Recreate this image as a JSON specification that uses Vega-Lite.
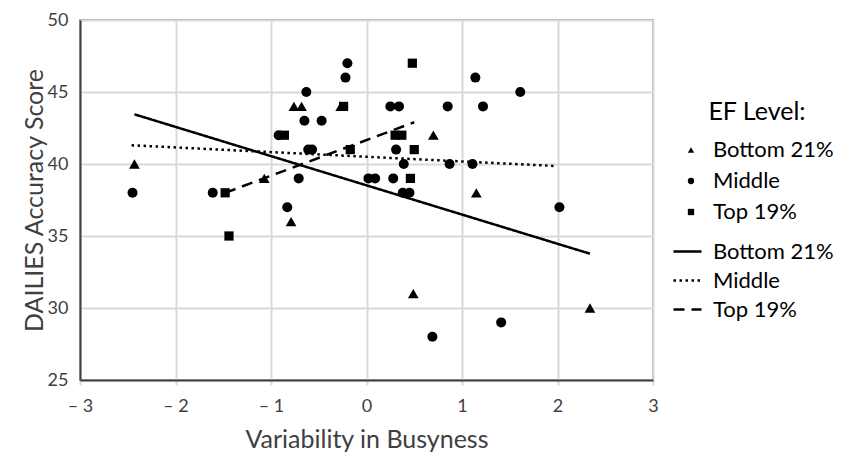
{
  "$schema": "https://vega.github.io/schema/vega-lite/v6.json",
  "width": 573,
  "height": 360,
  "autosize": "none",
  "padding": {"left": 80, "top": 20, "right": 188, "bottom": 75},
  "background": "white",
  "config": {
    "font": "Lato",
    "view": {"stroke": "#a6a6a6", "strokeWidth": 2}
  },
  "datasets": {
    "points": [
      {"busyness": -2.43, "score": 40, "group": "Bottom 21%"},
      {"busyness": -1.07, "score": 39, "group": "Bottom 21%"},
      {"busyness": -0.76, "score": 44, "group": "Bottom 21%"},
      {"busyness": -0.68, "score": 44, "group": "Bottom 21%"},
      {"busyness": -0.27, "score": 44, "group": "Bottom 21%"},
      {"busyness": -0.79, "score": 36, "group": "Bottom 21%"},
      {"busyness": 0.70, "score": 42, "group": "Bottom 21%"},
      {"busyness": 1.15, "score": 38, "group": "Bottom 21%"},
      {"busyness": 0.49, "score": 31, "group": "Bottom 21%"},
      {"busyness": 2.34, "score": 30, "group": "Bottom 21%"},
      {"busyness": -2.45, "score": 38, "group": "Middle"},
      {"busyness": -1.61, "score": 38, "group": "Middle"},
      {"busyness": -0.92, "score": 42, "group": "Middle"},
      {"busyness": -0.20, "score": 47, "group": "Middle"},
      {"busyness": -0.22, "score": 46, "group": "Middle"},
      {"busyness": -0.63, "score": 45, "group": "Middle"},
      {"busyness": -0.65, "score": 43, "group": "Middle"},
      {"busyness": -0.47, "score": 43, "group": "Middle"},
      {"busyness": 0.25, "score": 44, "group": "Middle"},
      {"busyness": 0.34, "score": 44, "group": "Middle"},
      {"busyness": 0.85, "score": 44, "group": "Middle"},
      {"busyness": -0.61, "score": 41, "group": "Middle"},
      {"busyness": -0.57, "score": 41, "group": "Middle"},
      {"busyness": 0.31, "score": 41, "group": "Middle"},
      {"busyness": 0.39, "score": 40, "group": "Middle"},
      {"busyness": 0.87, "score": 40, "group": "Middle"},
      {"busyness": -0.71, "score": 39, "group": "Middle"},
      {"busyness": 0.02, "score": 39, "group": "Middle"},
      {"busyness": 0.09, "score": 39, "group": "Middle"},
      {"busyness": 0.28, "score": 39, "group": "Middle"},
      {"busyness": 0.38, "score": 38, "group": "Middle"},
      {"busyness": 0.45, "score": 38, "group": "Middle"},
      {"busyness": -0.83, "score": 37, "group": "Middle"},
      {"busyness": 1.14, "score": 46, "group": "Middle"},
      {"busyness": 1.61, "score": 45, "group": "Middle"},
      {"busyness": 1.22, "score": 44, "group": "Middle"},
      {"busyness": 1.11, "score": 40, "group": "Middle"},
      {"busyness": 2.02, "score": 37, "group": "Middle"},
      {"busyness": 0.69, "score": 28, "group": "Middle"},
      {"busyness": 1.41, "score": 29, "group": "Middle"},
      {"busyness": -1.48, "score": 38, "group": "Top 19%"},
      {"busyness": -0.86, "score": 42, "group": "Top 19%"},
      {"busyness": -0.24, "score": 44, "group": "Top 19%"},
      {"busyness": 0.48, "score": 47, "group": "Top 19%"},
      {"busyness": 0.30, "score": 42, "group": "Top 19%"},
      {"busyness": 0.37, "score": 42, "group": "Top 19%"},
      {"busyness": -0.17, "score": 41, "group": "Top 19%"},
      {"busyness": 0.50, "score": 41, "group": "Top 19%"},
      {"busyness": 0.46, "score": 39, "group": "Top 19%"},
      {"busyness": -1.44, "score": 35, "group": "Top 19%"}
    ],
    "fits": [
      {"busyness": -2.43, "score": 43.45, "fit": "Bottom 21%"},
      {"busyness": 2.34, "score": 33.77, "fit": "Bottom 21%"},
      {"busyness": -2.46, "score": 41.3, "fit": "Middle"},
      {"busyness": 1.98, "score": 39.86, "fit": "Middle"},
      {"busyness": -1.48, "score": 38.0, "fit": "Top 19%"},
      {"busyness": 0.50, "score": 42.9, "fit": "Top 19%"}
    ]
  },
  "encoding": {
    "x": {
      "field": "busyness",
      "type": "quantitative",
      "scale": {"domain": [-3, 3], "nice": false, "zero": false},
      "axis": {
        "title": "Variability in Busyness",
        "titleFontSize": 25,
        "titleFontWeight": "normal",
        "titleColor": "#404040",
        "titlePadding": 12,
        "labelFontSize": 18,
        "labelColor": "#404040",
        "labelPadding": 12,
        "labelFlush": false,
        "labelExpr": "datum.value < 0 ? '– ' + abs(datum.value) : datum.label",
        "values": [-3, -2, -1, 0, 1, 2, 3],
        "grid": true,
        "gridColor": "#d9d9d9",
        "gridWidth": 2,
        "domainColor": "#404040",
        "domainWidth": 2,
        "ticks": true,
        "tickColor": "#d9d9d9",
        "tickSize": 5,
        "tickWidth": 2
      }
    },
    "y": {
      "field": "score",
      "type": "quantitative",
      "scale": {"domain": [25, 50], "nice": false, "zero": false},
      "axis": {
        "title": "DAILIES Accuracy Score",
        "titleFontSize": 25,
        "titleFontWeight": "normal",
        "titleColor": "#404040",
        "titlePadding": 0,
        "labelFontSize": 18,
        "labelColor": "#404040",
        "labelPadding": 12,
        "values": [25, 30, 35, 40, 45, 50],
        "grid": true,
        "gridColor": "#d9d9d9",
        "gridWidth": 2,
        "domainColor": "#404040",
        "domainWidth": 2,
        "ticks": false
      }
    }
  },
  "layer": [
    {
      "data": {"name": "points"},
      "mark": {"type": "point", "filled": true, "color": "black", "opacity": 1},
      "encoding": {
        "shape": {
          "field": "group",
          "type": "nominal",
          "scale": {"domain": ["Bottom 21%", "Middle", "Top 19%"], "range": ["triangle-up", "circle", "square"]},
          "legend": {
            "title": "EF Level:",
            "orient": "none",
            "legendX": 600,
            "legendY": 80,
            "titleFontSize": 25,
            "titleFontWeight": "normal",
            "titleColor": "black",
            "titleAnchor": "middle",
            "titlePadding": 14,
            "labelFontSize": 22,
            "labelColor": "black",
            "labelOffset": 11,
            "rowPadding": 9,
            "symbolSize": 40,
            "symbolFillColor": "black",
            "symbolStrokeColor": "black",
            "symbolOpacity": 1
          }
        },
        "size": {
          "field": "group",
          "type": "nominal",
          "scale": {"range": [115, 85, 80]},
          "legend": null
        }
      }
    },
    {
      "data": {"name": "fits"},
      "mark": {"type": "line", "color": "black", "strokeWidth": 2.5},
      "encoding": {
        "strokeDash": {
          "field": "fit",
          "type": "nominal",
          "scale": {"range": [[1, 0], [2.5, 3.5], [11, 7]]},
          "legend": {
            "title": null,
            "orient": "none",
            "legendX": 592,
            "legendY": 216,
            "labelFontSize": 22,
            "labelColor": "black",
            "labelOffset": 10,
            "rowPadding": 2,
            "symbolType": "stroke",
            "symbolSize": 784,
            "symbolStrokeWidth": 2.5,
            "symbolStrokeColor": "black"
          }
        }
      }
    }
  ]
}
